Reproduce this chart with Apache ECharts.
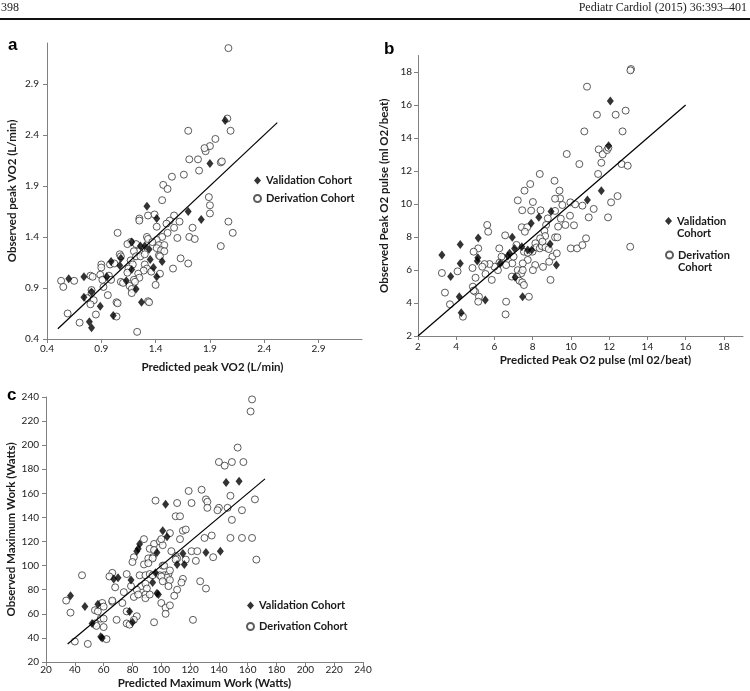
<!DOCTYPE html>
<html>
<head>
<meta charset="utf-8">
<title>Predicted vs observed exercise values</title>
<script src="https://cdn.jsdelivr.net/npm/echarts@6/dist/echarts.min.js"></script>
<style>
    html, body { margin: 0; padding: 0; background: #fff; }
    .chart { width: 750px; height: 691px; }
</style>
</head>
<body>
<div class="chart"></div>
<script>
// a: peak VO2 (L/min)  [predicted, observed]
var vo2Validation = [[1.90,2.12],[1.32,1.70],[1.41,1.58],[1.70,1.65],[1.82,1.57],[1.26,1.31],[1.30,1.31],[1.34,1.28],[1.18,1.35],[1.08,1.19],[0.99,1.16],[1.07,1.12],[1.18,1.08],[1.35,1.18],[1.46,1.16],[1.38,1.10],[1.41,1.01],[0.95,1.01],[0.74,1.01],[0.60,0.99],[1.13,0.97],[1.22,0.89],[0.81,0.86],[0.74,0.81],[0.89,0.72],[1.27,0.76],[1.01,0.63],[0.79,0.57],[0.81,0.51],[2.04,2.54]];
var vo2Derivation = [[1.86,2.24],[1.71,2.16],[1.79,2.16],[1.80,2.05],[2.00,2.13],[2.01,2.14],[1.55,1.99],[1.66,2.01],[1.47,1.91],[1.51,1.87],[1.46,1.76],[1.89,1.79],[1.90,1.71],[1.90,1.63],[1.33,1.61],[1.39,1.62],[1.25,1.58],[1.25,1.56],[1.57,1.61],[1.62,1.55],[1.53,1.56],[1.50,1.53],[1.41,1.50],[1.57,1.49],[1.74,1.49],[2.07,1.55],[1.05,1.44],[1.51,1.44],[1.46,1.40],[1.60,1.39],[1.71,1.40],[1.76,1.38],[1.32,1.40],[1.33,1.38],[1.41,1.37],[1.37,1.35],[1.17,1.35],[1.14,1.33],[1.22,1.33],[1.43,1.32],[1.48,1.32],[1.41,1.29],[1.45,1.27],[1.48,1.26],[1.43,1.22],[1.44,1.21],[2.00,1.31],[1.25,1.26],[1.20,1.26],[1.22,1.21],[1.26,1.21],[1.30,1.23],[1.07,1.23],[1.08,1.21],[1.17,1.17],[1.19,1.13],[0.90,1.13],[0.90,1.10],[0.98,1.13],[1.02,1.14],[1.63,1.19],[1.70,1.14],[1.56,1.09],[1.30,1.13],[1.32,1.09],[1.36,1.06],[1.29,1.07],[1.15,1.09],[1.14,1.05],[1.24,1.04],[1.25,1.00],[1.44,1.04],[1.40,0.93],[0.80,1.02],[0.82,1.01],[0.89,1.03],[0.97,1.02],[0.91,0.98],[0.99,0.98],[1.20,0.98],[1.21,0.96],[1.08,0.96],[1.10,0.95],[0.53,0.97],[0.55,0.91],[0.65,0.97],[0.92,0.91],[1.16,0.92],[1.18,0.89],[1.18,0.85],[0.81,0.88],[0.81,0.85],[0.77,0.80],[0.83,0.78],[0.80,0.74],[0.96,0.83],[1.04,0.76],[1.05,0.75],[1.33,0.77],[1.34,0.76],[0.59,0.65],[0.85,0.64],[1.04,0.62],[0.70,0.56],[1.23,0.47],[2.07,3.25],[2.06,2.56],[2.09,2.44],[1.70,2.44],[1.95,2.36],[1.90,2.29],[1.85,2.27],[2.11,1.44]];
var vo2Line = [[0.5,0.5],[2.52,2.52]];
var vo2Range = [0.4, 3.3, 0.5];

// b: peak O2 pulse (ml O2/beat)
var pulseValidation = [[11.97,13.53],[11.59,10.81],[10.86,10.24],[8.96,9.54],[8.32,9.19],[7.92,8.83],[6.93,7.98],[5.15,7.94],[4.21,7.54],[3.25,6.91],[4.21,6.40],[5.13,6.75],[5.10,6.55],[3.71,5.60],[4.16,4.38],[4.26,3.41],[5.52,4.18],[6.30,6.40],[6.70,6.85],[6.79,7.01],[7.05,7.31],[7.43,7.41],[7.74,7.21],[7.95,7.21],[8.91,7.57],[9.24,6.30],[7.08,5.56],[7.47,4.38],[12.06,16.24]];
var pulseDerivation = [[11.36,15.41],[12.34,15.41],[12.86,15.66],[10.70,14.40],[12.70,14.40],[9.78,13.03],[11.45,13.31],[11.66,13.01],[11.89,13.27],[11.96,13.41],[10.44,12.42],[11.59,12.50],[12.65,12.42],[12.97,12.32],[11.42,11.82],[8.37,11.82],[9.14,11.41],[7.87,11.21],[7.57,10.81],[9.40,10.81],[9.43,10.34],[9.17,10.32],[7.22,10.22],[8.01,10.12],[9.97,10.10],[10.22,9.98],[10.60,9.90],[9.55,9.94],[12.10,10.10],[12.44,10.48],[11.19,9.70],[11.94,9.19],[10.93,9.19],[9.95,9.29],[7.45,9.62],[7.92,9.60],[8.41,9.62],[9.17,9.58],[8.79,9.13],[9.47,9.11],[9.71,8.73],[10.16,8.71],[9.33,8.63],[7.43,8.59],[7.71,8.59],[7.59,8.32],[8.70,8.73],[8.61,8.38],[8.65,8.06],[8.39,7.92],[9.17,7.98],[9.29,7.98],[10.79,7.92],[9.99,7.31],[10.32,7.31],[10.60,7.51],[13.10,7.41],[5.62,8.73],[5.67,8.32],[6.56,8.10],[6.25,7.31],[7.15,7.52],[5.15,7.31],[4.91,7.11],[7.54,7.11],[7.74,7.05],[7.99,7.11],[8.14,7.62],[8.20,7.37],[8.37,7.31],[8.48,7.45],[8.51,7.72],[8.67,7.37],[8.84,7.27],[9.03,6.81],[9.26,7.01],[8.86,6.50],[8.54,6.19],[8.13,6.30],[8.01,5.99],[7.74,6.61],[7.48,6.40],[7.22,5.99],[7.40,5.80],[7.48,5.99],[6.93,6.40],[7.00,6.81],[6.61,6.30],[6.47,6.75],[6.37,6.81],[6.91,5.60],[7.17,5.60],[7.31,5.35],[7.45,5.25],[7.54,5.09],[7.80,4.38],[8.93,5.40],[6.18,5.99],[6.26,6.44],[6.00,6.20],[5.74,6.36],[5.48,6.36],[5.36,6.20],[5.53,5.76],[5.86,5.40],[4.87,4.99],[4.99,4.69],[5.19,4.38],[5.15,4.08],[4.91,4.75],[5.01,5.53],[4.85,6.12],[4.07,5.92],[3.25,5.82],[3.41,4.63],[3.67,3.92],[4.35,3.17],[6.61,4.08],[6.58,3.31],[13.14,18.18],[13.11,18.10],[10.84,17.11]];
var pulseLine = [[2,2],[16,16]];
var pulseRange = [2, 19, 2];

// c: maximum work (Watts)
var workValidation = [[145,169],[154,170],[103,151],[101,129],[104,124],[85,118],[84,114],[83,112],[97,111],[115,110],[131,111],[141,112],[111,101],[116,101],[67,89],[70,90],[79,88],[94,86],[96,94],[97,77],[98,76],[56,68],[47,66],[37,75],[78,62],[52,52],[80,53],[58,41],[59,40]];
var workDerivation = [[153,198],[140,186],[144,183],[149,186],[157,186],[128,163],[119,162],[96,154],[111,152],[121,152],[131,155],[132,153],[132,148],[140,148],[139,146],[146,148],[148,158],[156,146],[165,155],[110,141],[113,141],[149,138],[115,129],[117,130],[106,127],[88,122],[95,118],[99,120],[101,117],[100,122],[113,122],[130,123],[135,125],[148,123],[156,123],[163,123],[166,105],[136,107],[121,112],[125,112],[124,104],[117,105],[110,108],[111,106],[110,105],[107,112],[92,114],[95,113],[94,107],[91,106],[94,106],[81,107],[80,103],[88,101],[91,102],[101,100],[102,100],[85,92],[89,92],[92,93],[94,92],[99,92],[102,92],[105,93],[104,90],[106,96],[100,91],[101,87],[106,88],[105,83],[115,89],[114,86],[127,87],[131,81],[111,80],[109,75],[100,69],[103,65],[103,60],[106,67],[122,55],[95,53],[86,83],[89,85],[90,81],[89,76],[89,73],[92,76],[79,83],[83,80],[81,74],[84,76],[74,78],[76,93],[73,69],[68,82],[66,94],[64,91],[66,70],[66,71],[59,69],[60,66],[54,63],[56,62],[58,56],[60,56],[54,52],[55,50],[60,49],[69,55],[76,62],[83,58],[81,55],[76,52],[78,51],[62,39],[40,37],[49,35],[45,92],[34,71],[37,61],[163,238],[162,228]];
var workLine = [[35,35],[172,172]];
var workRange = [20, 240, 20];

var cohortNames = ['Validation Cohort', 'Derivation Cohort'];

window.onload = function () {
    var myChart = echarts.init(document.querySelector('.chart'));

    var labelFont = 'Lato';
    var axisColor = '#808080';

    // shift moves a centred axis title sideways (Excel centres it a bit off the plot)
    function valueAxis(grid, range, name, nameGap, labelMargin, showMax, shift) {
        var pad = shift ? [0, 0, 0, shift * 2] : 0;
        return {
            type: 'value',
            gridIndex: grid,
            min: range[0],
            max: range[1],
            interval: range[2],
            name: name,
            nameLocation: 'middle',
            nameGap: nameGap,
            nameTextStyle: { fontFamily: labelFont, fontWeight: 'bold', fontSize: 11.5, color: '#1a1a1a', padding: pad },
            axisLine: { show: true, onZero: false, lineStyle: { color: axisColor, width: 1 } },
            axisTick: { show: true, length: 4, lineStyle: { color: axisColor } },
            axisLabel: { fontFamily: labelFont, fontSize: 10, color: '#222', margin: labelMargin, showMaxLabel: showMax },
            splitLine: { show: false }
        };
    }

    // open circles first, diamonds on top, fitted line last
    function cohort(grid, data, isValidation) {
        return {
            name: isValidation ? cohortNames[0] : cohortNames[1],
            type: 'scatter',
            xAxisIndex: grid,
            yAxisIndex: grid,
            data: data,
            symbol: isValidation ? 'diamond' : 'circle',
            symbolSize: isValidation ? [7, 9] : 7,
            itemStyle: isValidation
                ? { color: '#000' }
                : { color: '#fff', borderColor: '#333', borderWidth: 1 },
            z: isValidation ? 3 : 2
        };
    }

    function fitLine(grid, data) {
        return {
            type: 'line',
            xAxisIndex: grid,
            yAxisIndex: grid,
            data: data,
            symbol: 'none',
            silent: true,
            lineStyle: { color: '#000', width: 1.2 },
            z: 4
        };
    }

    var legendText = { fontFamily: labelFont, fontSize: 11, fontWeight: 'bold', color: '#1a1a1a' };
    var wrappedText = Object.assign({ lineHeight: 12 }, legendText);

    // panel b wraps the names; a blank first line keeps the marker level with the first word
    function wrapName(name) {
        return '\n' + name.replace(' ', '\n');
    }

    var option = {
        animation: false,
        backgroundColor: '#fff',
        grid: [
            { left: 47, top: 43, width: 315, height: 296 },
            { left: 418, top: 55.5, width: 325, height: 280.5 },
            { left: 46, top: 397, width: 317, height: 265 }
        ],
        xAxis: [
            valueAxis(0, vo2Range, 'Predicted peak VO2 (L/min)', 22, 5, false, 8),
            valueAxis(1, pulseRange, 'Predicted Peak O2 pulse (ml 02/beat)', 18, 6, false, 15),
            valueAxis(2, workRange, 'Predicted Maximum Work (Watts)', 15, 3, true, 0)
        ],
        yAxis: [
            valueAxis(0, vo2Range, 'Observed peak VO2 (L/min)', 29, 8, false, 0),
            valueAxis(1, pulseRange, 'Observed Peak O2 pulse (ml O2/beat)', 28, 6, false, 0),
            valueAxis(2, workRange, 'Observed Maximum Work (Watts)', 28, 7, true, 0)
        ],
        legend: [
            {
                left: 253, top: 175, orient: 'vertical', padding: 0, itemGap: 7,
                itemWidth: 7, itemHeight: 8, data: cohortNames, textStyle: legendText
            },
            {
                left: 665, top: 203, padding: 0, itemWidth: 7, itemHeight: 8,
                data: [cohortNames[0]], formatter: wrapName, textStyle: wrappedText
            },
            {
                left: 665, top: 237, padding: 0, itemWidth: 7, itemHeight: 8,
                data: [cohortNames[1]], formatter: wrapName, textStyle: wrappedText
            },
            {
                left: 246, top: 600, orient: 'vertical', padding: 0, itemGap: 10,
                itemWidth: 7, itemHeight: 8, data: cohortNames, textStyle: legendText
            }
        ],
        graphic: [
            { type: 'text', left: 1, top: 2, style: { text: '398', font: '12px "Liberation Serif"', fill: '#222' } },
            { type: 'text', right: 3, top: 2, style: { text: 'Pediatr Cardiol (2015) 36:393\u2013401', font: '12px "Liberation Serif"', fill: '#222' } },
            { type: 'line', shape: { x1: 0, y1: 19, x2: 750, y2: 19 }, style: { stroke: '#111', lineWidth: 2 } },
            { type: 'text', left: 8, top: 37, style: { text: 'a', font: 'bold 17px "Liberation Sans"', fill: '#000' } },
            { type: 'text', left: 384, top: 41, style: { text: 'b', font: 'bold 17px "Liberation Sans"', fill: '#000' } },
            { type: 'text', left: 7, top: 387, style: { text: 'c', font: 'bold 17px "Liberation Sans"', fill: '#000' } }
        ],
        series: [
            cohort(0, vo2Derivation, false),
            cohort(0, vo2Validation, true),
            fitLine(0, vo2Line),
            cohort(1, pulseDerivation, false),
            cohort(1, pulseValidation, true),
            fitLine(1, pulseLine),
            cohort(2, workDerivation, false),
            cohort(2, workValidation, true),
            fitLine(2, workLine)
        ]
    };

    myChart.setOption(option);
    window.addEventListener('resize', function () {
        myChart.resize();
    });
};
</script>
</body>
</html>
